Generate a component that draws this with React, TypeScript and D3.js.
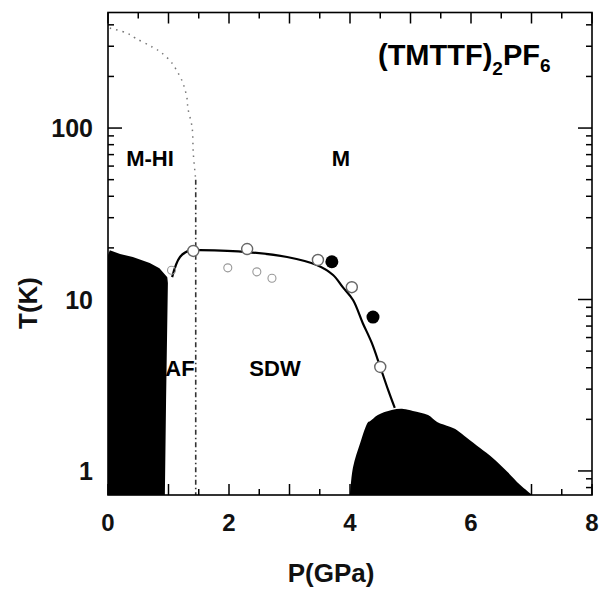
import React from "react";
import * as d3 from "d3";

// ---- data ----
const xTickLabels = [0, 2, 4, 6, 8];
const yTickLabels = [1, 10, 100];

// SDW / AF transition line (solid)
const lineP = [1.06, 1.19, 1.36, 1.52, 2.3, 2.96, 3.45, 3.72, 3.88, 4.05, 4.21, 4.36, 4.5, 4.63, 4.74];
const lineT = [13.5, 17.7, 19.4, 19.4, 18.9, 17.7, 15.9, 13.9, 11.8, 9.93, 7.3, 5.58, 4.04, 2.97, 2.33];

// M-HI boundary (dotted upper part, dashed vertical part)
const mhiP = [0.03, 0.31, 0.45, 0.73, 0.89, 1.06, 1.14, 1.22, 1.27, 1.31, 1.32, 1.39, 1.41, 1.45];
const mhiT = [383, 358, 335, 297, 274, 239, 215, 190, 169, 146, 131, 101, 71, 50];
const mhiLowP = [1.45, 1.45];
const mhiLowT = [50, 0.724];

// open circles (on line)
const openP = [1.41, 2.3, 3.47, 4.03, 4.5];
const openT = [19.2, 19.7, 17.0, 11.8, 4.04];
// faint open circles
const faintP = [1.05, 1.98, 2.46, 2.71];
const faintT = [14.8, 15.3, 14.5, 13.3];
// filled circles
const filledP = [3.7, 4.38];
const filledT = [16.6, 7.9];

// AF black region outline
const afP = [0, 0.03, 0.2, 0.41, 0.55, 0.69, 0.85, 0.98, 0.99, 0.96, 0.94, 0];
const afT = [18.2, 19.4, 18.4, 17.7, 17.0, 16.3, 15.2, 13.5, 12.5, 2.6, 0.724, 0.724];

// right dome (black) outline
const domeP = [4.0, 4.05, 4.17, 4.3, 4.33, 4.46, 4.69, 4.88, 5.04, 5.29, 5.44, 5.65, 5.77, 5.93, 6.15, 6.36, 6.6, 6.81, 7.01];
const domeT = [0.724, 1.05, 1.46, 1.93, 1.95, 2.12, 2.27, 2.3, 2.24, 2.12, 1.93, 1.81, 1.73, 1.56, 1.36, 1.19, 0.99, 0.83, 0.724];

const W = 605;
const H = 589;
const FONT = "'Liberation Sans', Arial, Helvetica, sans-serif";

export default function App() {
  const x = d3.scaleLinear().domain([0, 8]).range([108, 592]);
  const y = d3.scaleLog().domain([0.724, 472]).range([495, 12.5]);

  const pts = (ps: number[], ts: number[]) => ps.map((p, i) => [x(p), y(ts[i])] as [number, number]);

  const smooth = d3.line().curve(d3.curveCatmullRom.alpha(0.5));
  const straight = d3.line();

  const [x0, x1] = x.range();
  const [y0, y1] = y.range(); // y0 bottom, y1 top

  // ticks
  const xMinor = d3.range(0, 8.01, 0.5);
  const yMinor: number[] = [];
  [0.1, 1, 10, 100].forEach((dec) => {
    for (let k = 1; k <= 9; k++) {
      const v = dec * k;
      if (v >= 0.724 && v <= 472) yMinor.push(v);
    }
  });

  return (
    <svg width={W} height={H} style={{ position: "absolute", left: 0, top: 0, background: "#fff" }}>
      {/* filled regions */}
      <path d={straight(pts(afP, afT)) + "Z"} fill="#000" />
      <path d={smooth(pts(domeP, domeT)) + "Z"} fill="#000" />

      {/* M-HI boundary */}
      <path d={smooth(pts(mhiP, mhiT)) || ""} fill="none" stroke="#777" strokeWidth={1.5} strokeDasharray="1.5,5" />
      <path d={straight(pts(mhiLowP, mhiLowT)) || ""} fill="none" stroke="#333" strokeWidth={1.6} strokeDasharray="5,3,1.5,3" />

      {/* transition line */}
      <path d={smooth(pts(lineP, lineT)) || ""} fill="none" stroke="#000" strokeWidth={2.2} />

      {/* points */}
      {faintP.map((p, i) => (
        <circle key={"f" + i} cx={x(p)} cy={y(faintT[i])} r={4} fill="none" stroke="#999" strokeWidth={1.1} />
      ))}
      {openP.map((p, i) => (
        <circle key={"o" + i} cx={x(p)} cy={y(openT[i])} r={5.5} fill="#fff" stroke="#666" strokeWidth={1.4} />
      ))}
      {filledP.map((p, i) => (
        <circle key={"b" + i} cx={x(p)} cy={y(filledT[i])} r={6.5} fill="#000" />
      ))}

      {/* frame */}
      <rect x={x0} y={y1} width={x1 - x0} height={y0 - y1} fill="none" stroke="#000" strokeWidth={1.6} />

      {/* x ticks (bottom and top, inward) */}
      {xMinor.map((v) => {
        const major = Math.abs(v - Math.round(v)) < 1e-6;
        const len = major ? 11 : 6;
        return (
          <g key={"xt" + v}>
            <line x1={x(v)} x2={x(v)} y1={y0} y2={y0 - len} stroke="#000" strokeWidth={1.5} />
            <line x1={x(v)} x2={x(v)} y1={y1} y2={y1 + len} stroke="#000" strokeWidth={1.5} />
          </g>
        );
      })}

      {/* y ticks (left and right, inward) */}
      {yMinor.map((v) => {
        const major = yTickLabels.includes(v);
        const len = major ? 14 : 6;
        return (
          <g key={"yt" + v}>
            <line x1={x0} x2={x0 + len} y1={y(v)} y2={y(v)} stroke="#000" strokeWidth={1.5} />
            <line x1={x1} x2={x1 - len} y1={y(v)} y2={y(v)} stroke="#000" strokeWidth={1.5} />
          </g>
        );
      })}

      {/* tick labels */}
      {xTickLabels.map((v) => (
        <text key={"xl" + v} x={x(v)} y={531} textAnchor="middle" fontFamily={FONT} fontWeight="bold" fontSize={24} fill="#111">
          {v}
        </text>
      ))}
      {yTickLabels.map((v) => (
        <text key={"yl" + v} x={93} y={y(v)} dy="0.36em" textAnchor="end" fontFamily={FONT} fontWeight="bold" fontSize={25} fill="#111">
          {v}
        </text>
      ))}

      {/* axis titles */}
      <text x={331} y={582} textAnchor="middle" fontFamily={FONT} fontWeight="bold" fontSize={26} fill="#111">
        P(GPa)
      </text>
      <text
        transform="translate(37,303) rotate(-90)"
        textAnchor="middle"
        fontFamily={FONT}
        fontWeight="bold"
        fontSize={26}
        fill="#111"
      >
        T(K)
      </text>

      {/* compound title */}
      <text x={378} y={65} fontFamily={FONT} fontWeight="bold" fontSize={29} fill="#000">
        (TMTTF)
        <tspan fontSize={19} dy={10}>2</tspan>
        <tspan dy={-10}>PF</tspan>
        <tspan fontSize={19} dy={7}>6</tspan>
      </text>

      {/* phase labels */}
      <text x={150} y={166} textAnchor="middle" fontFamily={FONT} fontWeight="bold" fontSize={22} fill="#000">M-HI</text>
      <text x={341} y={166} textAnchor="middle" fontFamily={FONT} fontWeight="bold" fontSize={22} fill="#000">M</text>
      <text x={180} y={376} textAnchor="middle" fontFamily={FONT} fontWeight="bold" fontSize={22} fill="#000">AF</text>
      <text x={275} y={376} textAnchor="middle" fontFamily={FONT} fontWeight="bold" fontSize={22} fill="#000">SDW</text>
    </svg>
  );
}
